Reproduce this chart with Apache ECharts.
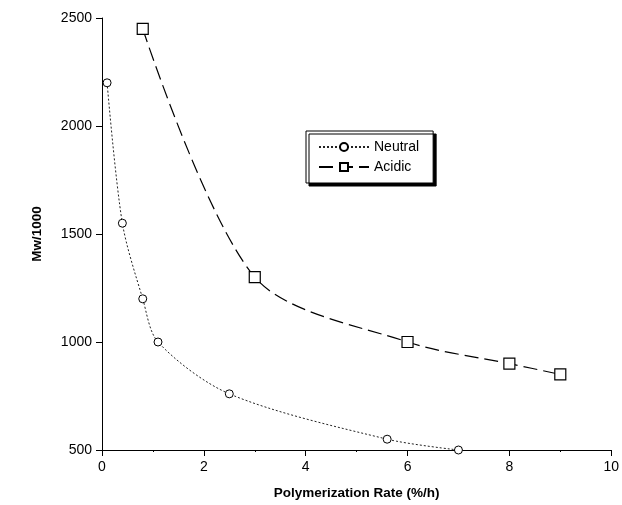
<!DOCTYPE html>
<html>
<head>
<meta charset="utf-8">
<script src="https://cdn.jsdelivr.net/npm/echarts@6/dist/echarts.min.js"></script>
<style>
  html, body { margin: 0; padding: 0; background: #fff; }
  #chart { width: 622px; height: 505px; }
</style>
</head>
<body>
<div id="chart"></div>
<script>
// Weight-average molecular weight versus polymerization rate
const neutralRate = [0.1, 0.4, 0.8, 1.1, 2.5, 5.6, 7.0];
const neutralMw   = [2200, 1550, 1200, 1000, 760, 550, 500];
const acidicRate  = [0.8, 3.0, 6.0, 8.0, 9.0];
const acidicMw    = [2450, 1300, 1000, 900, 850];
const xTicks = [0, 2, 4, 6, 8, 10];
const yTicks = [500, 1000, 1500, 2000, 2500];

const font = 'Liberation Sans, Arial, sans-serif';
const pairs = (xs, ys) => xs.map((x, i) => [x, ys[i]]);

const chart = echarts.init(document.getElementById('chart'));
chart.setOption({
  animation: false,
  backgroundColor: '#fff',
  textStyle: { fontFamily: font, color: '#000' },
  grid: { left: 102, right: 9, top: 18, bottom: 55 },
  legend: {
    orient: 'vertical',
    left: 306,
    top: 131,
    padding: [9, 14, 9, 12],
    itemGap: 6,
    itemWidth: 50,
    itemHeight: 10,
    backgroundColor: '#fff',
    borderColor: '#000',
    borderWidth: 1,
    shadowColor: '#000',
    shadowBlur: 0,
    shadowOffsetX: 3,
    shadowOffsetY: 3,
    textStyle: { fontFamily: font, fontSize: 14, color: '#000' },
    data: ['Neutral', 'Acidic']
  },
  xAxis: {
    type: 'value',
    min: xTicks[0],
    max: xTicks[xTicks.length - 1],
    interval: 2,
    name: 'Polymerization Rate (%/h)',
    nameLocation: 'middle',
    nameGap: 36,
    nameTextStyle: { fontFamily: font, fontSize: 13.5, fontWeight: 'bold', color: '#000' },
    axisLine: { show: true, lineStyle: { color: '#000', width: 1 } },
    axisTick: { show: true, length: 6, lineStyle: { color: '#000' } },
    minorTick: { show: true, splitNumber: 2, length: 2, lineStyle: { color: '#000' } },
    axisLabel: { fontFamily: font, fontSize: 14, color: '#000', margin: 10, formatter: v => String(v) },
    splitLine: { show: false }
  },
  yAxis: {
    type: 'value',
    min: yTicks[0],
    max: yTicks[yTicks.length - 1],
    interval: 500,
    name: 'Mw/1000',
    nameLocation: 'middle',
    nameGap: 58,
    nameTextStyle: { fontFamily: font, fontSize: 13.5, fontWeight: 'bold', color: '#000' },
    axisLine: { show: true, lineStyle: { color: '#000', width: 1 } },
    axisTick: { show: true, length: 6, lineStyle: { color: '#000' } },
    axisLabel: { fontFamily: font, fontSize: 14, color: '#000', margin: 10, formatter: v => String(v) },
    splitLine: { show: false }
  },
  series: [
    {
      name: 'Neutral',
      type: 'line',
      data: pairs(neutralRate, neutralMw),
      smooth: 0.3,
      symbol: 'circle',
      symbolSize: 8,
      lineStyle: { color: '#222', width: 1, type: [2, 2] },
      itemStyle: { color: '#fff', borderColor: '#000', borderWidth: 1 }
    },
    {
      name: 'Acidic',
      type: 'line',
      data: pairs(acidicRate, acidicMw),
      smooth: 0.3,
      symbol: 'rect',
      symbolSize: 11,
      lineStyle: { color: '#000', width: 1.2, type: [14, 6] },
      itemStyle: { color: '#fff', borderColor: '#000', borderWidth: 1.2 }
    }
  ]
});
</script>
</body>
</html>
